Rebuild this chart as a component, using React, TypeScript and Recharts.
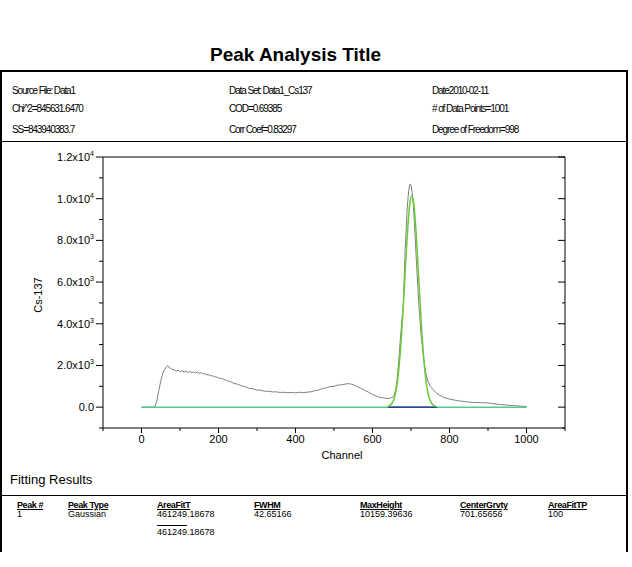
import { LineChart, Line, XAxis, YAxis } from "recharts";

// x axis ticks (channel) – labelled majors plus minor ticks
const X_MAJOR = [0, 200, 400, 600, 800, 1000];
const X_TICKS = [-100, 0, 100, 200, 300, 400, 500, 600, 700, 800, 900, 1000, 1100];
// y axis ticks (counts)
const Y_MAJOR = [0, 2000, 4000, 6000, 8000, 10000, 12000];
const Y_TICKS = [-1000, 0, 1000, 2000, 3000, 4000, 5000, 6000, 7000, 8000, 9000, 10000, 11000, 12000];

// measured Cs-137 spectrum (grey)
const SPEC_CH = [
  0, 10, 20, 30, 35, 40, 45, 50, 55, 60, 65, 68, 72, 76, 80, 85, 90, 95, 100, 105,
  110, 115, 120, 125, 130, 135, 140, 145, 150, 155, 160, 165, 170, 175, 180, 185, 190, 195, 200, 210,
  220, 230, 240, 250, 260, 270, 280, 290, 300, 310, 320, 330, 340, 350, 360, 370, 380, 390, 400, 410,
  420, 430, 440, 450, 460, 470, 480, 490, 500, 510, 520, 530, 535, 540, 545, 550, 560, 570, 580, 590,
  600, 610, 620, 630, 640, 650, 655, 660, 665, 670, 675, 680, 685, 690, 694, 697, 700, 703, 706, 710,
  714, 718, 722, 727, 732, 736, 740, 744, 750, 757, 765, 775, 785, 800, 820, 840, 860, 880, 895, 910,
  930, 950, 970, 990, 1000,
];
const SPEC_CNT = [
  0, 0, 0, 0, 30, 300, 800, 1250, 1600, 1820, 1930, 1990, 1890, 1870, 1810, 1790, 1730, 1770, 1700, 1740,
  1680, 1730, 1670, 1710, 1650, 1700, 1640, 1680, 1620, 1660, 1590, 1600, 1550, 1550, 1510, 1500, 1450, 1450, 1400, 1370,
  1280, 1230, 1140, 1100, 1020, 980, 900, 880, 820, 810, 760, 765, 730, 735, 705, 715, 690, 710, 685, 715,
  695, 720, 735, 790, 825, 890, 925, 990, 1000, 1060, 1070, 1110, 1120, 1130, 1100, 1085, 990, 905, 800, 715,
  600, 535, 465, 435, 410, 455, 520, 800, 1500, 2700, 3900, 4900, 7600, 9500, 10400, 10700, 10650, 10300, 9700, 8450,
  7000, 5700, 4500, 3300, 2500, 1900, 1500, 1250, 1000, 850, 700, 565, 465, 385, 315, 265, 225, 218, 205, 182,
  128, 97, 68, 42, 30,
];

// flat fit baseline (green-teal)
const BASE_CH = [0, 1000];
const BASE_Y = [0, 0];

// peak baseline (navy)
const PEAKBASE_CH = [640, 767];
const PEAKBASE_Y = [0, 0];

// Gaussian fit peak (lime)
const FIT_CH = [640, 647, 652, 657, 662, 667, 672, 677, 682, 687, 692, 697, 702, 707, 712, 717, 722, 727, 732, 737, 742, 747, 752, 757, 764];
const FIT_Y = [30, 110, 225, 464, 887, 1570, 2576, 3918, 5521, 7210, 8722, 9779, 10159, 9779, 8722, 7210, 5521, 3918, 2576, 1570, 887, 464, 225, 110, 30];

const spectrum = SPEC_CH.map((c, i) => ({ ch: c, v: SPEC_CNT[i] }));
const baseline = BASE_CH.map((c, i) => ({ ch: c, v: BASE_Y[i] }));
const peakBase = PEAKBASE_CH.map((c, i) => ({ ch: c, v: PEAKBASE_Y[i] }));
const fit = FIT_CH.map((c, i) => ({ ch: c, v: FIT_Y[i] }));

const FONT = '"Liberation Sans", Arial, sans-serif';

function BottomTick(props: any) {
  const { x, y, payload } = props;
  const major = X_MAJOR.includes(payload.value);
  return (
    <g>
      <line x1={x} y1={y} x2={x} y2={y + (major ? 5 : 3)} stroke="#000" />
      {major && (
        <text x={x} y={y + 15} textAnchor="middle" fontSize={11} fontFamily={FONT} fill="#000">
          {payload.value}
        </text>
      )}
    </g>
  );
}

function TopTick(props: any) {
  const { x, y, payload } = props;
  const major = X_MAJOR.includes(payload.value);
  return <line x1={x} y1={y} x2={x} y2={y + (major ? 6 : 3)} stroke="#000" />;
}

function LeftTick(props: any) {
  const { x, y, payload } = props;
  const v = payload.value;
  const major = Y_MAJOR.includes(v);
  let label: any = null;
  if (major) {
    if (v === 0) {
      label = "0.0";
    } else {
      const e = Math.floor(Math.log10(v));
      const m = (v / Math.pow(10, e)).toFixed(1);
      label = (
        <>
          {m + "x10"}
          <tspan dy={-5} fontSize={7}>{e}</tspan>
        </>
      );
    }
  }
  return (
    <g>
      <line x1={x} y1={y} x2={x - (major ? 7 : 4)} y2={y} stroke="#000" />
      {major && (
        <text x={x - 9} y={y + 4} textAnchor="end" fontSize={11} fontFamily={FONT} fill="#000">
          {label}
        </text>
      )}
    </g>
  );
}

function RightTick(props: any) {
  const { x, y, payload } = props;
  const major = Y_MAJOR.includes(payload.value);
  return <line x1={x} y1={y} x2={x - (major ? 7 : 3)} y2={y} stroke="#000" />;
}

const abs = (left: number, top: number, extra: any = {}) => ({
  position: "absolute" as const,
  left,
  top,
  whiteSpace: "nowrap" as const,
  ...extra,
});

const info = { fontSize: 10, lineHeight: "12px", letterSpacing: "-1.1px" };
const th = { fontSize: 9, lineHeight: "10px", fontWeight: "bold", textDecoration: "underline", letterSpacing: "-0.4px" };
const td = { fontSize: 9, lineHeight: "10px" };

export default function App() {
  return (
    <div
      style={{
        position: "absolute",
        left: 0,
        top: 0,
        width: 632,
        height: 567,
        background: "#fff",
        fontFamily: FONT,
        color: "#000",
        overflow: "hidden",
      }}
    >
      <div style={abs(0, 43, { width: 591, textAlign: "center", fontSize: 19, fontWeight: "bold", lineHeight: "23px" })}>
        Peak Analysis Title
      </div>

      {/* frame */}
      <div style={abs(0, 70, { width: 628, height: 2, background: "#000" })} />
      <div style={abs(0, 70, { width: 2, height: 482, background: "#000" })} />
      <div style={abs(626, 70, { width: 2, height: 482, background: "#000" })} />
      <div style={abs(0, 141, { width: 628, height: 1, background: "#000" })} />
      <div style={abs(0, 495, { width: 628, height: 1, background: "#000" })} />

      {/* header info */}
      <div style={abs(12, 85, info)}>Source File: Data1</div>
      <div style={abs(12, 103, info)}>Chi^2=845631.6470</div>
      <div style={abs(12, 124, info)}>SS=843940383.7</div>
      <div style={abs(229, 85, info)}>Data Set: Data1_Cs137</div>
      <div style={abs(229, 103, info)}>COD=0.69385</div>
      <div style={abs(229, 124, info)}>Corr Coef=0.83297</div>
      <div style={abs(432, 85, info)}>Date2010-02-11</div>
      <div style={abs(432, 103, info)}># of Data Points=1001</div>
      <div style={abs(432, 124, info)}>Degree of Freedom=998</div>

      <div style={{ position: "absolute", left: 0, top: 141 }}>
        <LineChart width={626} height={317} margin={{ top: 16, right: 61, bottom: 0, left: 43 }}>
          <XAxis
            dataKey="ch"
            type="number"
            domain={[-100, 1100]}
            ticks={X_TICKS}
            interval={0}
            allowDataOverflow
            tickSize={0}
            tickMargin={0}
            tickLine={false}
            tick={BottomTick}
            axisLine={{ stroke: "#000" }}
          />
          <XAxis
            xAxisId="top"
            orientation="top"
            mirror
            type="number"
            domain={[-100, 1100]}
            ticks={X_TICKS}
            interval={0}
            allowDataOverflow
            tickSize={0}
            tickMargin={0}
            tickLine={false}
            tick={TopTick}
            axisLine={{ stroke: "#000" }}
          />
          <YAxis
            type="number"
            domain={[-1000, 12000]}
            ticks={Y_TICKS}
            interval={0}
            allowDataOverflow
            width={60}
            tickSize={0}
            tickMargin={0}
            tickLine={false}
            tick={LeftTick}
            axisLine={{ stroke: "#000" }}
          />
          <YAxis
            yAxisId="right"
            orientation="right"
            mirror
            type="number"
            domain={[-1000, 12000]}
            ticks={Y_TICKS}
            interval={0}
            allowDataOverflow
            tickSize={0}
            tickMargin={0}
            tickLine={false}
            tick={RightTick}
            axisLine={{ stroke: "#000" }}
          />
          <Line data={spectrum} dataKey="v" type="linear" stroke="#808080" strokeWidth={1} dot={false} isAnimationActive={false} />
          <Line data={baseline} dataKey="v" type="linear" stroke="#55c98a" strokeWidth={1.5} dot={false} isAnimationActive={false} />
          <Line data={peakBase} dataKey="v" type="linear" stroke="#1a1a90" strokeWidth={1.2} dot={false} isAnimationActive={false} />
          <Line data={fit} dataKey="v" type="monotone" stroke="#66cc33" strokeWidth={1.5} dot={false} isAnimationActive={false} />
        </LineChart>
      </div>

      <div style={abs(38, 295, { transform: "translate(-50%, -50%) rotate(-90deg)", fontSize: 11 })}>Cs-137</div>
      <div style={abs(342, 455, { transform: "translate(-50%, -50%)", fontSize: 11 })}>Channel</div>

      <div style={abs(10, 472, { fontSize: 13, lineHeight: "16px" })}>Fitting Results</div>

      {/* results table */}
      <div style={abs(17, 500, th)}>Peak #</div>
      <div style={abs(68, 500, th)}>Peak Type</div>
      <div style={abs(157, 500, th)}>AreaFitT</div>
      <div style={abs(254, 500, th)}>FWHM</div>
      <div style={abs(360, 500, th)}>MaxHeight</div>
      <div style={abs(460, 500, th)}>CenterGrvty</div>
      <div style={abs(548, 500, th)}>AreaFitTP</div>

      <div style={abs(17, 509, td)}>1</div>
      <div style={abs(68, 509, td)}>Gaussian</div>
      <div style={abs(157, 509, td)}>461249.18678</div>
      <div style={abs(254, 509, td)}>42.65166</div>
      <div style={abs(360, 509, td)}>10159.39636</div>
      <div style={abs(460, 509, td)}>701.65656</div>
      <div style={abs(548, 509, td)}>100</div>

      <div style={abs(157, 525, { width: 30, height: 1, background: "#000" })} />
      <div style={abs(157, 527, td)}>461249.18678</div>
    </div>
  );
}
